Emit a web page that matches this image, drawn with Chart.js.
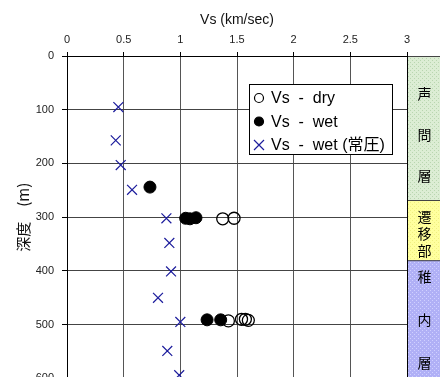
<!DOCTYPE html>
<html lang="ja">
<head>
<meta charset="UTF-8">
<title>Vs profile</title>
<script src="https://cdn.jsdelivr.net/npm/chart.js@4"></script>
<style>
  body { margin: 0; overflow: hidden; background: #fff; }
</style>
</head>
<body>
<canvas id="myChart" width="440" height="393"></canvas>
<script>
// values
const xTicks = [0, 0.5, 1, 1.5, 2, 2.5, 3];
const yTicks = [0, 100, 200, 300, 400, 500, 600];

const dryVs = [1.374, 1.474, 1.424, 1.54, 1.574, 1.60];
const dryDepth = [303, 302, 493, 490, 490, 492];

const wetVs = [0.732, 1.047, 1.085, 1.138, 1.236, 1.356];
const wetDepth = [244, 302, 303, 301, 491, 491];

const atmVs = [0.453, 0.43, 0.474, 0.574, 0.877, 0.903, 0.918, 0.803, 1.0, 0.885, 0.99];
const atmDepth = [95, 157, 203, 249, 302, 348, 401, 450, 495, 549, 594];

const layerNames = ['声問層', '遷移部', '稚内層'];
const layerTop = [0, 268, 380];
const layerBottom = [268, 380, 640];

const FONT = '"Liberation Sans", Arial, "Noto Sans CJK JP", sans-serif';

function pts(xs, ys) {
    return xs.map((x, i) => ({ x: x, y: ys[i] }));
}

function makePattern(base, dot) {
    const c = document.createElement('canvas');
    c.width = 4; c.height = 4;
    const g = c.getContext('2d');
    g.fillStyle = base;
    g.fillRect(0, 0, 4, 4);
    g.fillStyle = dot;
    g.fillRect(0, 0, 1, 1);
    g.fillRect(2, 2, 1, 1);
    return g.createPattern(c, 'repeat');
}

// coloured strata column to the right of the plot
const strataPlugin = {
    id: 'strata',
    afterDraw(chart) {
        const ctx = chart.ctx;
        const y = chart.scales.y;
        const area = chart.chartArea;
        const fills = [
            makePattern('#dcedd4', '#b9d6b0'),
            makePattern('#ffff9e', '#f0f080'),
            makePattern('#b0b0f6', '#d0d0ff')
        ];
        const gaps = [41, 17, 43];
        const shift = [7, 4, 0];
        const x0 = area.right;
        const x1 = chart.width;
        ctx.save();
        layerNames.forEach((name, i) => {
            const top = y.getPixelForValue(layerTop[i]);
            const bot = y.getPixelForValue(layerBottom[i]);
            ctx.fillStyle = fills[i];
            ctx.fillRect(x0, top, x1 - x0, bot - top);
            ctx.strokeStyle = '#444';
            ctx.lineWidth = 1;
            ctx.beginPath();
            ctx.moveTo(x0, top + 0.5);
            ctx.lineTo(x1, top + 0.5);
            ctx.stroke();
            const visBot = Math.min(bot, area.bottom);
            const mid = (top + visBot) / 2 + shift[i];
            ctx.fillStyle = '#000';
            ctx.font = '14px "Noto Sans CJK JP", sans-serif';
            ctx.textAlign = 'center';
            ctx.textBaseline = 'middle';
            const chars = Array.from(name);
            chars.forEach((ch, k) => {
                const off = (k - (chars.length - 1) / 2) * gaps[i];
                ctx.fillText(ch, (x0 + x1) / 2 + 1, mid + off);
            });
        });
        ctx.beginPath();
        ctx.strokeStyle = '#000';
        ctx.moveTo(x0 + 0.5, area.top);
        ctx.lineTo(x0 + 0.5, area.bottom);
        ctx.stroke();
        ctx.restore();
    }
};

// boxed legend inside the plot area
const boxLegendPlugin = {
    id: 'boxLegend',
    afterDraw(chart) {
        const ctx = chart.ctx;
        const left = 249, top = 84, w = 143, h = 70;
        ctx.save();
        ctx.fillStyle = '#fff';
        ctx.fillRect(left, top, w, h);
        ctx.strokeStyle = '#000';
        ctx.lineWidth = 1;
        ctx.strokeRect(left + 0.5, top + 0.5, w, h);
        ctx.font = '16px ' + FONT;
        ctx.textBaseline = 'middle';
        ctx.textAlign = 'left';
        chart.data.datasets.forEach((ds, i) => {
            const cy = top + 14 + i * 23.5;
            const cx = left + 10;
            ctx.strokeStyle = ds.borderColor;
            ctx.fillStyle = ds.backgroundColor;
            ctx.lineWidth = 1.2;
            if (ds.pointStyle === 'crossRot') {
                ctx.beginPath();
                ctx.moveTo(cx - 5, cy - 5); ctx.lineTo(cx + 5, cy + 5);
                ctx.moveTo(cx + 5, cy - 5); ctx.lineTo(cx - 5, cy + 5);
                ctx.stroke();
            } else {
                ctx.beginPath();
                ctx.arc(cx, cy, 4.5, 0, Math.PI * 2);
                ctx.fill();
                ctx.stroke();
            }
            ctx.fillStyle = '#000';
            ctx.fillText(ds.label.replace(' - ', '  -  '), left + 22, cy + 1);
        });
        ctx.restore();
    }
};

const ctx = document.getElementById('myChart').getContext('2d');
const chart = new Chart(ctx, {
    type: 'scatter',
    data: {
        datasets: [{
            label: 'Vs - dry',
            data: pts(dryVs, dryDepth),
            pointStyle: 'circle',
            pointRadius: 6,
            borderColor: '#000',
            backgroundColor: 'rgba(255,255,255,0)',
            borderWidth: 1.3
        }, {
            label: 'Vs - wet',
            data: pts(wetVs, wetDepth),
            pointStyle: 'circle',
            pointRadius: 6,
            borderColor: '#000',
            backgroundColor: '#000',
            borderWidth: 1
        }, {
            label: 'Vs - wet (常圧)',
            data: pts(atmVs, atmDepth),
            pointStyle: 'crossRot',
            pointRadius: 7,
            borderColor: '#1c1c9c',
            backgroundColor: '#1c1c9c',
            borderWidth: 1.2
        }]
    },
    options: {
        responsive: false,
        animation: false,
        layout: { padding: { top: 12, right: 33, bottom: 10, left: 0 } },
        plugins: {
            legend: { display: false },
            tooltip: { enabled: false }
        },
        scales: {
            x: {
                type: 'linear',
                position: 'top',
                min: 0,
                max: 3,
                afterBuildTicks: s => { s.ticks = xTicks.map(v => ({ value: v })); },
                ticks: {
                    color: '#222',
                    font: { size: 11, family: FONT },
                    padding: 5,
                    maxRotation: 0,
                    callback: v => String(v)
                },
                grid: { color: '#555', tickLength: 4, tickColor: '#000' },
                border: { color: '#000' },
                title: {
                    display: true,
                    text: 'Vs (km/sec)',
                    color: '#111',
                    font: { size: 14, family: FONT },
                    padding: { top: 0, bottom: 0 }
                }
            },
            y: {
                type: 'linear',
                reverse: true,
                min: 0,
                max: 600,
                afterBuildTicks: s => { s.ticks = yTicks.map(v => ({ value: v })); },
                afterFit: s => { s.width = 67; },
                ticks: {
                    color: '#222',
                    font: { size: 11, family: FONT },
                    padding: 8
                },
                grid: { color: '#444', tickLength: 5, tickColor: '#000' },
                border: { color: '#000' },
                title: {
                    display: true,
                    text: '深度　(m)',
                    color: '#111',
                    font: { size: 15, family: '"Noto Sans CJK JP", ' + FONT },
                    padding: { top: 14, bottom: 0 }
                }
            }
        }
    },
    plugins: [strataPlugin, boxLegendPlugin]
});
</script>
</body>
</html>
